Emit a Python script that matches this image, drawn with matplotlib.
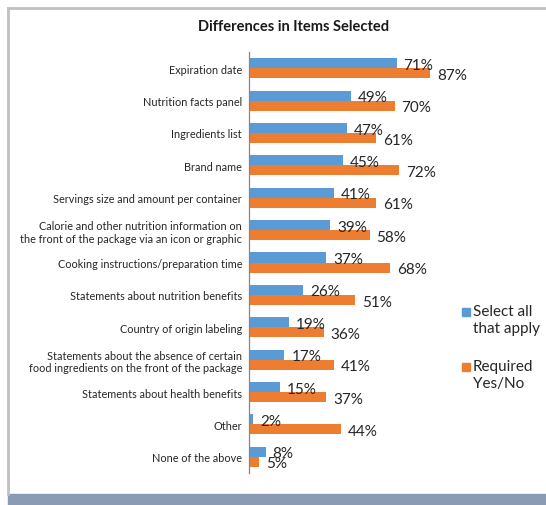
import numpy as np
import matplotlib
matplotlib.use("Agg")
import matplotlib.pyplot as plt
from matplotlib.patches import Rectangle
from matplotlib.lines import Line2D

plt.rcParams['font.family'] = ['Lato', 'DejaVu Sans']

# Data
categories = [
    "Expiration date",
    "Nutrition facts panel",
    "Ingredients list",
    "Brand name",
    "Servings size and amount per container",
    "Calorie and other nutrition information on\nthe front of the package via an icon or graphic",
    "Cooking instructions/preparation time",
    "Statements about nutrition benefits",
    "Country of origin labeling",
    "Statements about the absence of certain\nfood ingredients on the front of the package",
    "Statements about health benefits",
    "Other",
    "None of the above",
]
select_all = [71, 49, 47, 45, 41, 39, 37, 26, 19, 17, 15, 2, 8]
required = [87, 70, 61, 72, 61, 58, 68, 51, 36, 41, 37, 44, 5]
series_names = ["Select all\nthat apply", "Required\nYes/No"]

blue = "#5b9bd5"
orange = "#ed7d31"

W, H = 546, 506
fig = plt.figure(figsize=(W / 100, H / 100), dpi=100)

# axes placement in pixels
left, right, top, bottom = 249, 457, 53, 474
ax = fig.add_axes([left / W, 1 - bottom / H, (right - left) / W, (bottom - top) / H])

y = np.arange(len(categories))
bh = 0.31
ax.barh(y - bh / 2, select_all, height=bh, color=blue)
ax.barh(y + bh / 2, required, height=bh, color=orange)

for i in range(len(categories)):
    ax.annotate(f"{select_all[i]}%", (select_all[i], y[i] - bh / 2 + 0.05),
                xytext=(5, 0), textcoords="offset points",
                va="center", ha="left", fontsize=11, color="#262626")
    ax.annotate(f"{required[i]}%", (required[i], y[i] + bh / 2 + 0.05),
                xytext=(5, 0), textcoords="offset points",
                va="center", ha="left", fontsize=11, color="#262626")

ax.set_xlim(0, 100)
ax.set_ylim(len(categories) - 0.5, -0.5)
ax.set_yticks(y)
ax.set_yticklabels(categories, fontsize=7.8, color="#262626")
ax.tick_params(axis="y", length=0, pad=5)
ax.set_xticks([])
for s in ["top", "right", "bottom"]:
    ax.spines[s].set_visible(False)
ax.spines["left"].set_color("#868686")
ax.spines["left"].set_linewidth(0.9)

# title
fig.text(294 / W, 1 - 27 / H, "Differences in Items Selected", ha="center", va="center",
         fontsize=10.5, fontweight="bold", color="#1a1a1a")

# legend
for (ly, name, col) in [(313, series_names[0], blue), (368, series_names[1], orange)]:
    fig.patches.append(Rectangle((462 / W, 1 - (ly + 4) / H), 8 / W, 8 / H,
                                 transform=fig.transFigure, color=col))
    fig.text(473 / W, 1 - (ly - 8) / H, name, ha="left", va="top",
             fontsize=11, color="#262626", linespacing=1.3)

# frame
fig.lines.append(Line2D([8 / W, 8 / W], [1 - 495 / H, 1 - 9 / H], transform=fig.transFigure,
                        color="#c0c0c0", lw=2))
fig.lines.append(Line2D([8 / W, 1], [1 - 9 / H, 1 - 9 / H], transform=fig.transFigure,
                        color="#c0c0c0", lw=2))
fig.patches.append(Rectangle((8 / W, 0), 1 - 8 / W, 11 / H, transform=fig.transFigure,
                             color="#8a9bb3"))

fig.savefig("out.png", dpi=100)
